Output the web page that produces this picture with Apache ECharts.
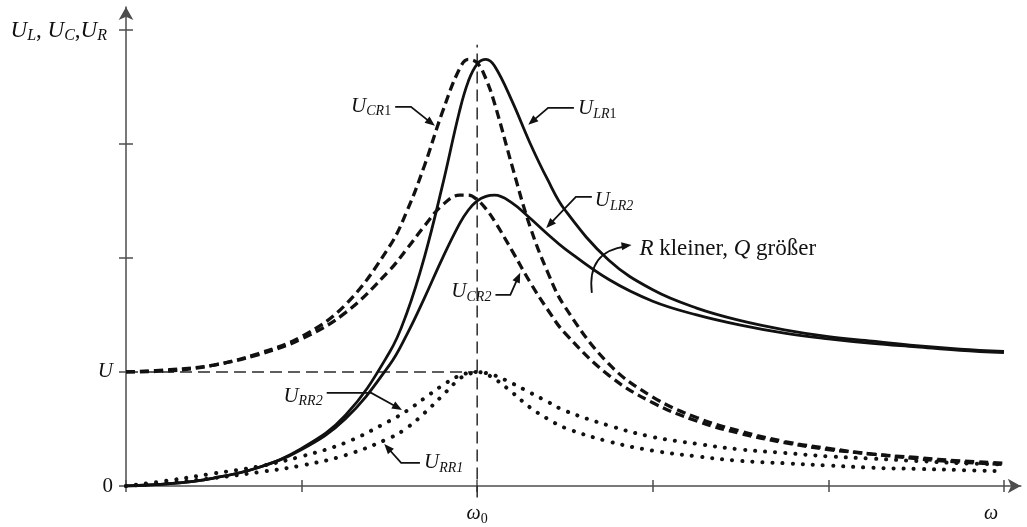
<!DOCTYPE html>
<html><head><meta charset="utf-8">
<script src="https://cdn.jsdelivr.net/npm/echarts@6/dist/echarts.min.js"></script>
<style>html,body{margin:0;padding:0;background:#fff}#c{width:1027px;height:527px}</style>
</head><body><div id="c"></div>
<script>
// ---- data (x in axis units, omega0 = 2; y in units of U) ----
const omegaX = [0, 0.25, 0.5, 0.75, 1, 1.25, 1.5, 1.6, 1.7, 1.8, 1.9, 1.95, 2.0, 2.05, 2.1, 2.2, 2.3, 2.4, 2.5, 2.75, 3, 3.25, 3.5, 3.75, 4, 4.25, 4.5, 4.75, 5];
const U_CR1 = [1.00, 1.02, 1.06, 1.16, 1.31, 1.59, 2.10, 2.41, 2.81, 3.27, 3.66, 3.74, 3.71, 3.57, 3.35, 2.80, 2.28, 1.88, 1.57, 1.07, 0.78, 0.60, 0.48, 0.39, 0.33, 0.28, 0.25, 0.22, 0.20];
const U_LR1 = [0.00, 0.02, 0.07, 0.16, 0.33, 0.62, 1.17, 1.52, 2.01, 2.62, 3.29, 3.55, 3.70, 3.74, 3.68, 3.37, 3.01, 2.69, 2.42, 1.98, 1.72, 1.56, 1.45, 1.37, 1.31, 1.27, 1.23, 1.20, 1.18];
const U_CR2 = [1.00, 1.01, 1.06, 1.15, 1.29, 1.52, 1.89, 2.08, 2.28, 2.46, 2.55, 2.55, 2.51, 2.43, 2.32, 2.06, 1.79, 1.55, 1.34, 0.97, 0.73, 0.57, 0.46, 0.38, 0.32, 0.28, 0.24, 0.21, 0.19];
const U_LR2 = [0.00, 0.02, 0.07, 0.16, 0.32, 0.59, 1.06, 1.33, 1.65, 1.99, 2.30, 2.42, 2.50, 2.54, 2.55, 2.48, 2.35, 2.21, 2.08, 1.81, 1.62, 1.50, 1.41, 1.34, 1.29, 1.25, 1.22, 1.19, 1.17];
const U_RR1 = [0.00, 0.03, 0.07, 0.12, 0.18, 0.27, 0.42, 0.51, 0.64, 0.79, 0.94, 0.98, 1.00, 0.98, 0.94, 0.82, 0.69, 0.59, 0.51, 0.39, 0.31, 0.26, 0.22, 0.20, 0.18, 0.16, 0.15, 0.14, 0.13];
const U_RR2 = [0.00, 0.05, 0.11, 0.17, 0.26, 0.38, 0.57, 0.66, 0.77, 0.88, 0.97, 0.99, 1.00, 0.99, 0.97, 0.90, 0.82, 0.74, 0.66, 0.53, 0.43, 0.37, 0.32, 0.29, 0.26, 0.24, 0.22, 0.20, 0.19];
const xTicks = [0, 1, 2, 3, 4, 5];
const yTicks = [0, 1, 2, 3, 4];
const xLabelValues = [2, 5];
const yLabelValues = [0, 1];
const U_LEVEL = 1;
const OMEGA0 = 2;
const OMEGA0_LINE = [-0.1, 3.87];

// ---- styling ----
const SERIF = '"Liberation Serif","Times New Roman",serif';
const ink = '#111';
const axisCol = '#4d4d4d';
const RICH = {
  u: {fontFamily: SERIF, fontStyle: 'italic', fontSize: 21, color: ink, lineHeight: 24},
  s: {fontFamily: SERIF, fontStyle: 'italic', fontSize: 14, color: ink, lineHeight: 13, verticalAlign: 'bottom'},
  n: {fontFamily: SERIF, fontSize: 14, color: ink, lineHeight: 13, verticalAlign: 'bottom'},
  t: {fontFamily: SERIF, fontSize: 21, color: ink, lineHeight: 24},
  uB: {fontFamily: SERIF, fontStyle: 'italic', fontSize: 23, color: ink, lineHeight: 26},
  tB: {fontFamily: SERIF, fontSize: 23, color: ink, lineHeight: 26},
  sB: {fontFamily: SERIF, fontStyle: 'italic', fontSize: 16, color: ink, lineHeight: 14, verticalAlign: 'bottom'},
  we: {fontFamily: SERIF, fontStyle: 'italic', fontSize: 20, color: ink, lineHeight: 24, padding: [0, 26, 0, 0]},
  we2: {fontFamily: SERIF, fontStyle: 'italic', fontSize: 20, color: ink, lineHeight: 24}
};

const chart = echarts.init(document.getElementById('c'), null, {renderer: 'canvas'});
const pair = ys => omegaX.map((x, i) => [x, ys[i]]);

function curve(name, ys, kind) {
  const ls = {color: ink, width: 2.8};
  if (kind === 'dash') { ls.type = [9, 5]; ls.width = 3.3; }
  if (kind === 'dot') { ls.type = [0.1, 10]; ls.width = 4; ls.cap = 'round'; }
  return {name, type: 'line', data: pair(ys), showSymbol: false, symbol: 'none',
          smooth: 0.4, lineStyle: ls, silent: true, z: 3};
}
const refLine = (data) => ({type: 'line', data, symbol: 'none', showSymbol: false, clip: false, silent: true,
  lineStyle: {color: '#2a2a2a', width: 1.5, type: [12, 6]}, z: 2});

const tickStyle = {color: axisCol, width: 1.5};
const X_MAX = 5.096, Y_MAX = 4.2;
chart.setOption({
  animation: false,
  grid: {left: 126, right: 0, top: 7, bottom: 41, containLabel: false},
  xAxis: [
    {type: 'value', min: 0, max: X_MAX, position: 'bottom',
     axisLine: {onZero: false, lineStyle: {color: axisCol, width: 1.5}, symbol: ['none', 'arrow'], symbolSize: [11, 13]},
     axisTick: {show: true, customValues: xTicks, length: 6, lineStyle: tickStyle},
     axisLabel: {customValues: xLabelValues, margin: 16, rich: RICH,
       formatter: v => v === OMEGA0 ? '{we2|ω}{n|0}' : '{we|ω}'},
     splitLine: {show: false}},
    {type: 'value', min: 0, max: X_MAX, position: 'bottom',
     axisLine: {show: false, onZero: false},
     axisTick: {show: true, inside: true, customValues: xTicks, length: 6, lineStyle: tickStyle},
     axisLabel: {show: false}, splitLine: {show: false}}
  ],
  yAxis: [
    {type: 'value', min: 0, max: Y_MAX, position: 'left',
     axisLine: {onZero: false, lineStyle: {color: axisCol, width: 1.5}, symbol: ['none', 'arrow'], symbolSize: [11, 13]},
     axisTick: {show: true, customValues: yTicks, length: 7, lineStyle: tickStyle},
     axisLabel: {customValues: yLabelValues, margin: 13, rich: RICH,
       formatter: v => v === 0 ? '{t|0}' : '{u|U}'},
     splitLine: {show: false},
     name: '{uB|U}{sB|L}{tB|, }{uB|U}{sB|C}{tB|,}{uB|U}{sB|R}', nameLocation: 'end', nameGap: -24,
     nameTextStyle: {align: 'right', verticalAlign: 'middle', padding: [0, 19, 0, 0], rich: RICH}},
    {type: 'value', min: 0, max: Y_MAX, position: 'left',
     axisLine: {show: false, onZero: false},
     axisTick: {show: true, inside: true, customValues: yTicks, length: 7, lineStyle: tickStyle},
     axisLabel: {show: false}, splitLine: {show: false}}
  ],
  series: [
    refLine([[0, U_LEVEL], [OMEGA0, U_LEVEL]]),
    refLine([[OMEGA0, OMEGA0_LINE[0]], [OMEGA0, OMEGA0_LINE[1]]]),
    curve('U_CR1', U_CR1, 'dash'),
    curve('U_CR2', U_CR2, 'dash'),
    curve('U_LR1', U_LR1, 'solid'),
    curve('U_LR2', U_LR2, 'solid'),
    curve('U_RR1', U_RR1, 'dot'),
    curve('U_RR2', U_RR2, 'dot')
  ]
});

// ---- annotations (anchored in data coordinates) ----
const annotations = [
  {label: '{u|U}{s|CR}{n|1}', at: [1.510, 3.325], align: 'right', path: [[1.533, 3.325], [1.623, 3.325], [1.759, 3.158]]},
  {label: '{u|U}{s|LR}{n|1}', at: [2.574, 3.307], align: 'left', path: [[2.551, 3.316], [2.404, 3.316], [2.291, 3.167]]},
  {label: '{u|U}{s|LR2}', at: [2.670, 2.500], align: 'left', path: [[2.653, 2.535], [2.562, 2.535], [2.393, 2.263]]},
  {label: '{u|U}{s|CR2}', at: [2.081, 1.702], align: 'right', path: [[2.104, 1.675], [2.189, 1.675], [2.245, 1.870]]},
  {label: '{u|U}{s|RR2}', at: [1.120, 0.789], align: 'right', path: [[1.143, 0.816], [1.397, 0.816], [1.572, 0.667]]},
  {label: '{u|U}{s|RR1}', at: [1.697, 0.202], align: 'left', path: [[1.674, 0.202], [1.567, 0.202], [1.471, 0.368]]}
];
const qNote = {label: '{uB|R}{tB| kleiner, }{uB|Q}{tB| größer}', at: [2.924, 2.079],
  arc: {start: [2.653, 1.693], ctrl: [2.624, 2.060], end: [2.879, 2.114]}};

const P = d => chart.convertToPixel({xAxisIndex: 0, yAxisIndex: 0}, d);
function head(tip, from, len, half) {
  len = len || 10; half = half || 4;
  const dx = tip[0] - from[0], dy = tip[1] - from[1];
  const L = Math.hypot(dx, dy) || 1;
  const ux = dx / L, uy = dy / L;
  const bx = tip[0] - ux * len, by = tip[1] - uy * len;
  return {type: 'polygon', z: 10, silent: true,
    shape: {points: [tip, [bx - uy * half, by + ux * half], [bx + uy * half, by - ux * half]]},
    style: {fill: ink}};
}
const g = [];
annotations.forEach(a => {
  const p = P(a.at);
  g.push({type: 'text', x: p[0], y: p[1], z: 10, silent: true,
    style: {text: a.label, rich: RICH, align: a.align, verticalAlign: 'middle', fill: ink}});
  const pts = a.path.map(P);
  const last = pts[pts.length - 1], prev = pts[pts.length - 2];
  const dx = last[0] - prev[0], dy = last[1] - prev[1], L = Math.hypot(dx, dy);
  const stop = [last[0] - dx / L * 6, last[1] - dy / L * 6];
  g.push({type: 'polyline', z: 10, silent: true, shape: {points: pts.slice(0, -1).concat([stop])},
    style: {stroke: ink, lineWidth: 1.8, fill: null}});
  g.push(head(last, prev));
});
(function () {
  const p = P(qNote.at);
  g.push({type: 'text', x: p[0], y: p[1], z: 10, silent: true,
    style: {text: qNote.label, rich: RICH, align: 'left', verticalAlign: 'middle', fill: ink}});
  const s = P(qNote.arc.start), c = P(qNote.arc.ctrl), e = P(qNote.arc.end);
  g.push({type: 'bezierCurve', z: 10, silent: true,
    shape: {x1: s[0], y1: s[1], cpx1: c[0], cpy1: c[1], x2: e[0] - 5, y2: e[1] + 1.5},
    style: {stroke: ink, lineWidth: 1.8, fill: null}});
  g.push(head(e, c));
})();
chart.setOption({graphic: g});
</script>
</body></html>
